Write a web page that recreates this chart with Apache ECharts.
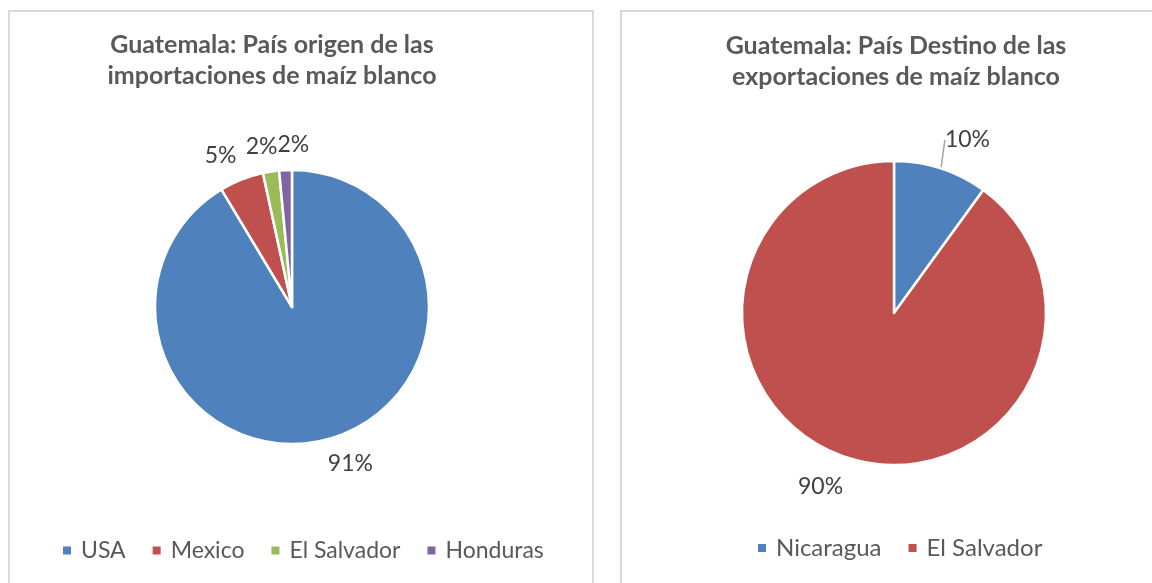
<!DOCTYPE html>
<html>
<head>
<meta charset="utf-8">
<script src="https://cdn.jsdelivr.net/npm/echarts@6/dist/echarts.min.js"></script>
<style>
  html, body { margin: 0; padding: 0; background: #fff; width: 1152px; height: 583px; overflow: hidden; }
  body { position: relative; }
  .panel { position: absolute; box-sizing: border-box; border: 2px solid #d9d9d9; background: #fff; }
  #left { left: 8px; top: 10px; width: 586px; height: 600px; }
  #right { left: 620px; top: 10px; width: 560px; height: 600px; }
</style>
</head>
<body>
<div id="left" class="panel"></div>
<div id="right" class="panel"></div>
<script>
// importaciones: país origen
var impNames = ['USA', 'Mexico', 'El Salvador', 'Honduras'];
var impValues = [91.4, 5.2, 1.9, 1.5];
var impColors = ['#4f81bd', '#c0504d', '#9bbb59', '#8064a2'];

// exportaciones: país destino
var expNames = ['Nicaragua', 'El Salvador'];
var expValues = [10, 90];
var expColors = ['#4f81bd', '#c0504d'];

var FONT = 'Lato';

// place label just outside the slice edge, pushed away along the slice direction (like excel best fit)
function outsideLabel(gap) {
  return function (p) {
    var pts = p.labelLinePoints;
    if (!pts) return {};
    var ux = pts[1][0] - pts[0][0], uy = pts[1][1] - pts[0][1];
    var n = Math.sqrt(ux * ux + uy * uy) || 1;
    ux /= n; uy /= n;
    var w = p.labelRect.width, h = p.labelRect.height;
    var kx = Math.max(-1, Math.min(1, ux * 3));
    var ky = Math.max(-1, Math.min(1, uy * 3));
    return {
      x: pts[0][0] + ux * gap + kx * w / 2,
      y: pts[0][1] + uy * gap + ky * h / 2,
      align: 'center',
      verticalAlign: 'middle',
      moveOverlap: 'shiftX'
    };
  };
}

function makeOption(cfg) {
  var data = cfg.names.map(function (n, i) {
    var item = { name: n, value: cfg.values[i] };
    if (cfg.hideLine && cfg.hideLine.indexOf(n) >= 0) {
      item.labelLine = { lineStyle: { opacity: 0 } };
    }
    return item;
  });
  return {
    animation: false,
    color: cfg.colors,
    title: {
      text: cfg.title,
      left: cfg.titleX,
      top: cfg.titleY,
      textAlign: 'center',
      padding: 0,
      textStyle: {
        fontFamily: FONT,
        fontSize: 25,
        fontWeight: 'bold',
        color: '#595959',
        lineHeight: 31
      }
    },
    legend: {
      left: cfg.legendX,
      top: cfg.legendY,
      icon: 'rect',
      itemWidth: 10,
      itemHeight: 10,
      itemGap: 25,
      padding: 0,
      textStyle: {
        fontFamily: FONT,
        fontSize: cfg.legendSize,
        color: '#595959',
        padding: [0, 0, 0, 4]
      },
      data: cfg.names
    },
    series: [{
      type: 'pie',
      center: cfg.center,
      radius: cfg.radius,
      startAngle: 90,
      clockwise: true,
      avoidLabelOverlap: false,
      percentPrecision: 0,
      itemStyle: { borderColor: '#fff', borderWidth: 2.5 },
      label: {
        show: true,
        position: 'outside',
        formatter: '{d}%',
        fontFamily: FONT,
        fontSize: 23,
        color: '#404040'
      },
      labelLine: {
        show: true,
        length: 10,
        length2: 0,
        lineStyle: { color: '#a6a6a6', width: 1.5, opacity: cfg.lineOpacity }
      },
      labelLayout: outsideLabel(cfg.gap),
      emphasis: { disabled: true },
      data: data
    }]
  };
}

var left = echarts.init(document.getElementById('left'));
left.setOption(makeOption({
  names: impNames, values: impValues, colors: impColors,
  title: 'Guatemala: País origen de las\nimportaciones de maíz blanco',
  titleX: 262, titleY: 17,
  legendX: 51, legendY: 527, legendSize: 23,
  center: [282, 295], radius: 137,
  gap: 14, lineOpacity: 0
}));

var right = echarts.init(document.getElementById('right'));
right.setOption(makeOption({
  names: expNames, values: expValues, colors: expColors,
  title: 'Guatemala: País Destino de las\nexportaciones de maíz blanco',
  titleX: 274, titleY: 18,
  legendX: 134, legendY: 524, legendSize: 24,
  center: [272, 301], radius: 152,
  gap: 18, lineOpacity: 1, hideLine: ['El Salvador']
}));
</script>
</body>
</html>
